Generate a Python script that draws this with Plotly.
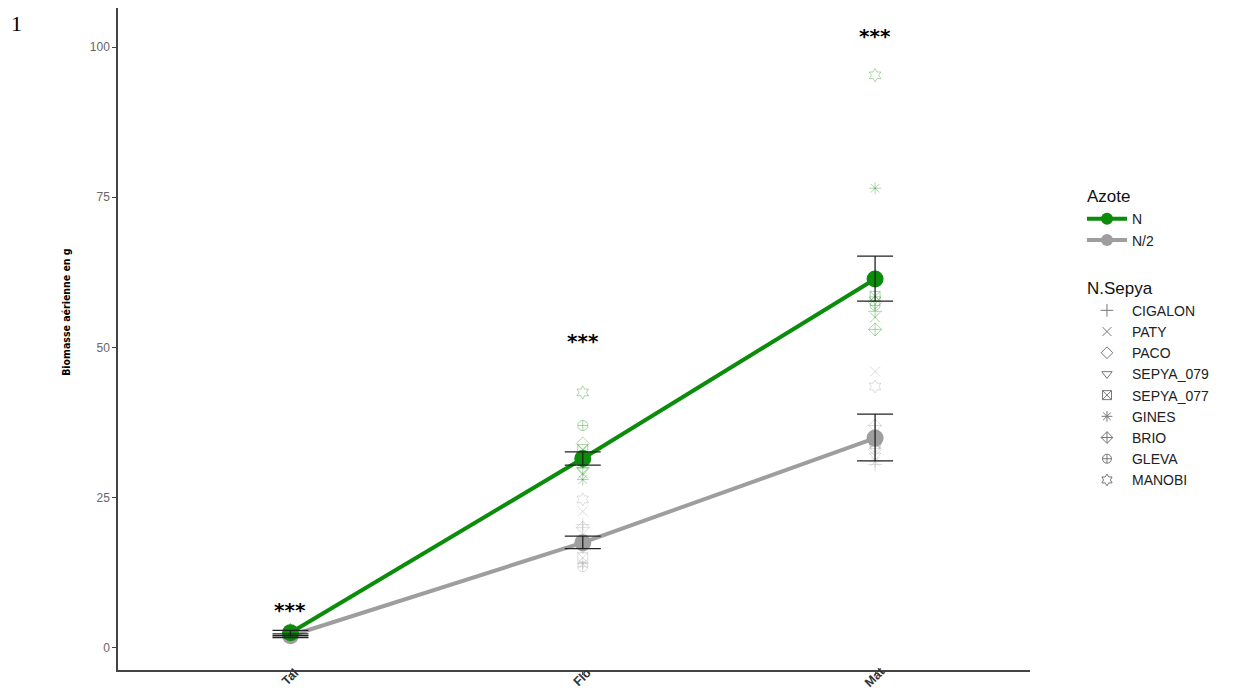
import plotly.graph_objects as go

stages = ["Tal", "Flo", "Mat"]
varieties = ["CIGALON", "PATY", "PACO", "SEPYA_079", "SEPYA_077", "GINES", "BRIO", "GLEVA", "MANOBI"]
symbols = ["cross-thin-open", "x-thin-open", "diamond-open", "triangle-down-open", "square-x-open",
           "asterisk-open", "diamond-cross-open", "circle-cross-open", "hexagram-open"]

# individual values per variety: [Tal, Flo, Mat]
ind_N = {
    "CIGALON": [2.6, 30.0, 56.0], "PATY": [2.4, 29.0, 55.0], "PACO": [2.8, 34.0, 57.5],
    "SEPYA_079": [2.3, 29.5, 58.0], "SEPYA_077": [2.7, 33.0, 58.5], "GINES": [2.2, 28.0, 76.5],
    "BRIO": [2.5, 31.0, 53.0], "GLEVA": [2.9, 37.0, 57.0], "MANOBI": [3.0, 42.5, 95.3],
}
ind_N2 = {
    "CIGALON": [2.0, 20.5, 30.5], "PATY": [1.9, 22.7, 46.0], "PACO": [2.1, 17.0, 33.0],
    "SEPYA_079": [1.8, 16.5, 32.0], "SEPYA_077": [2.2, 15.0, 34.0], "GINES": [1.7, 14.0, 31.0],
    "BRIO": [2.0, 20.0, 37.0], "GLEVA": [2.3, 13.5, 33.5], "MANOBI": [2.4, 24.7, 43.5],
}

mean_N = [2.5, 31.5, 61.4]
lo_N = [2.0, 30.4, 57.7]
hi_N = [2.9, 32.6, 65.2]
mean_N2 = [2.0, 17.5, 34.9]
lo_N2 = [1.7, 16.5, 31.1]
hi_N2 = [2.3, 18.6, 38.9]

sig_labels = ["***", "***", "***"]
sig_y = [6.3, 51.0, 101.8]

green = "#0b8c0b"
grey = "#9e9e9e"

fig = go.Figure()

# individual points
for name, sym in zip(varieties, symbols):
    fig.add_trace(go.Scatter(x=stages, y=ind_N[name], mode="markers", showlegend=False,
                             marker=dict(symbol=sym, size=10, color=green, opacity=0.35,
                                         line=dict(width=1, color=green))))
    fig.add_trace(go.Scatter(x=stages, y=ind_N2[name], mode="markers", showlegend=False,
                             marker=dict(symbol=sym, size=10, color=grey, opacity=0.35,
                                         line=dict(width=1, color=grey))))

# means lines
for nm, m, col in [("N/2", mean_N2, grey), ("N", mean_N, green)]:
    fig.add_trace(go.Scatter(x=stages, y=m, mode="lines+markers", name=nm,
                             legendgroup="azote", showlegend=False,
                             line=dict(color=col, width=4),
                             marker=dict(color=col, size=17, symbol="circle")))

# error bars on top
for m, lo, hi in [(mean_N2, lo_N2, hi_N2), (mean_N, lo_N, hi_N)]:
    fig.add_trace(go.Scatter(x=stages, y=m, mode="markers", showlegend=False,
                             marker=dict(opacity=0, size=1),
                             error_y=dict(type="data", symmetric=False,
                                          array=[h - v for h, v in zip(hi, m)],
                                          arrayminus=[v - l for v, l in zip(m, lo)],
                                          color="#222222", thickness=1.3, width=18)))

# legend entries
fig.add_trace(go.Scatter(x=[None], y=[None], mode="lines+markers", name="N",
                         legendgroup="azote", legendgrouptitle=dict(text="Azote"),
                         line=dict(color=green, width=4), marker=dict(color=green, size=12)))
fig.add_trace(go.Scatter(x=[None], y=[None], mode="lines+markers", name="N/2",
                         legendgroup="azote",
                         line=dict(color=grey, width=4), marker=dict(color=grey, size=12)))
for i, (name, sym) in enumerate(zip(varieties, symbols)):
    fig.add_trace(go.Scatter(x=[None], y=[None], mode="markers", name=name,
                             legendgroup="sepya",
                             legendgrouptitle=dict(text="N.Sepya") if i == 0 else None,
                             marker=dict(symbol=sym, size=9, color="#777777",
                                         line=dict(width=1, color="#777777"))))

for s, lab, yv in zip(stages, sig_labels, sig_y):
    fig.add_annotation(x=s, y=yv, text="<b>" + lab + "</b>", showarrow=False,
                       font=dict(size=20, color="black", family="DejaVu Sans"))

# rotated category labels
for s in stages:
    fig.add_annotation(x=s, xref="x", yref="paper", y=-0.011, text="<b>" + s + "</b>",
                       textangle=-45, showarrow=False, xanchor="center", yanchor="middle",
                       font=dict(size=12.5, color="#333333", family="Liberation Sans"))

fig.add_annotation(xref="paper", yref="paper", x=-0.057, y=0.541, text="<b>Biomasse aérienne en g</b>",
                   textangle=-90, showarrow=False, xanchor="center", yanchor="middle",
                   font=dict(size=10.5, color="black", family="DejaVu Sans Condensed"))

fig.add_annotation(xref="paper", yref="paper", x=-0.1195, y=0.998, xanchor="left", yanchor="top",
                   text="1", showarrow=False,
                   font=dict(size=22, color="black", family="Liberation Serif"))

fig.update_layout(
    width=1227, height=682,
    margin=dict(l=110, r=205, t=0, b=20),
    paper_bgcolor="white", plot_bgcolor="white",
    font=dict(family="Liberation Sans", color="#555555"),
    legend=dict(x=1.057, y=0.743, xanchor="left", yanchor="top",
                tracegroupgap=24, font=dict(size=14, color="#222222"),
                grouptitlefont=dict(size=17, color="#111111"),
                itemwidth=40),
)
fig.update_xaxes(range=[-0.59, 2.53], showline=True, linecolor="#444444", linewidth=1.5,
                 ticks="outside", ticklen=3, tickcolor="#444444", showgrid=False,
                 showticklabels=False, automargin=False)
fig.update_yaxes(range=[-3.7, 106.5], showline=True, linecolor="#444444", linewidth=1.5,
                 ticks="outside", ticklen=4, tickcolor="#444444", showgrid=False, zeroline=False,
                 tickvals=[0, 25, 50, 75, 100], tickfont=dict(size=12, color="#666666"),
                 automargin=False)

fig.write_html("out.html")
